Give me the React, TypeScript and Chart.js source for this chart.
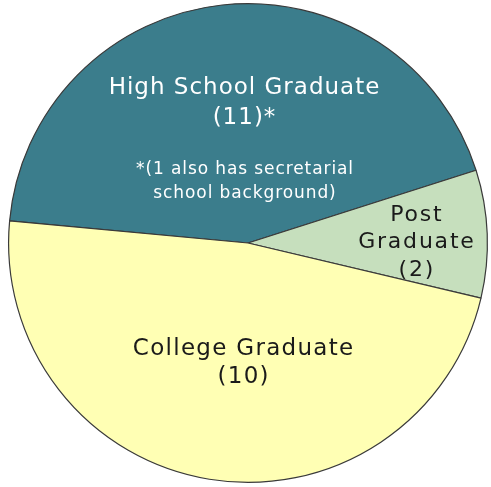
import React, { useEffect, useRef } from "react";
import { Chart, registerables } from "chart.js";

Chart.register(...registerables);

// Slice categories (clockwise, starting at the left edge)
const categories = ["High School Graduate", "Post Graduate", "College Graduate"];
// Slice sizes (degrees of arc)
const sliceDegrees = [157, 31, 172];
// Text written inside each slice
const labelLines = [
  ["High School Graduate", "(11)*"],
  ["Post", "Graduate", "(2)"],
  ["College Graduate", "(10)"],
];
const footnoteLines = ["*(1 also has secretarial", "school background)"];

const sliceColors = ["#3b7d8c", "#c6dfbd", "#ffffb4"];
const textColors = ["#ffffff", "#1a1a1a", "#1a1a1a"];

const FONT = "'DejaVu Sans', sans-serif";

const labelPlugin = {
  id: "sliceLabels",
  afterDatasetsDraw(chart: any) {
    const ctx = chart.ctx;
    const arc = chart.getDatasetMeta(0).data[0];
    if (!arc) return;
    const cx = arc.x;
    const cy = arc.y;
    // layout: [dx, dy of first line, line height, font size, letter spacing]
    const layout = [
      [-4, -155, 30, 23, 1],
      [168, -28, 27.5, 22, 1.8],
      [-5, 106, 28.5, 23, 1.3],
    ];
    ctx.save();
    ctx.textAlign = "center";
    ctx.textBaseline = "middle";
    labelLines.forEach((lines, i) => {
      const [dx, dy, lh, fs, ls] = layout[i];
      ctx.fillStyle = textColors[i];
      ctx.font = `${fs}px ${FONT}`;
      (ctx as any).letterSpacing = `${ls}px`;
      lines.forEach((t, j) => ctx.fillText(t, cx + dx + ls / 2, cy + dy + j * lh));
    });
    ctx.fillStyle = textColors[0];
    ctx.font = `17px ${FONT}`;
    (ctx as any).letterSpacing = "0.9px";
    footnoteLines.forEach((t, j) => ctx.fillText(t, cx - 3, cy - 73 + j * 24));
    ctx.restore();
  },
};

export default function App() {
  const ref = useRef<HTMLCanvasElement | null>(null);
  useEffect(() => {
    document.body.style.margin = "0";
    document.body.style.background = "#ffffff";
    const chart = new Chart(ref.current as HTMLCanvasElement, {
      type: "pie",
      data: {
        labels: categories,
        datasets: [
          {
            data: sliceDegrees,
            backgroundColor: sliceColors,
            borderColor: "#3a3a3a",
            borderWidth: 1.2,
          },
        ],
      },
      options: {
        responsive: false,
        animation: false,
        rotation: 275.3,
        layout: { padding: { left: 8, right: 3, top: 2, bottom: 3 } },
        plugins: {
          legend: { display: false },
          tooltip: { enabled: false },
        },
      },
      plugins: [labelPlugin],
    });
    return () => chart.destroy();
  }, []);
  return (
    <div style={{ width: 491, height: 487, background: "#fff" }}>
      <canvas ref={ref} width={491} height={487} style={{ display: "block" }} />
    </div>
  );
}
